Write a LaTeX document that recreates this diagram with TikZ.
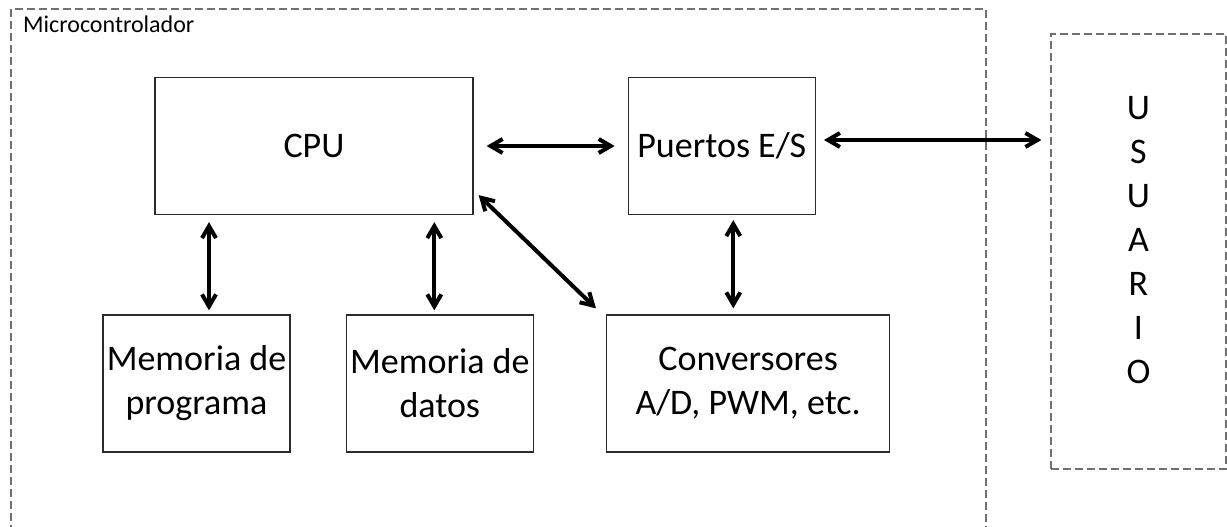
\documentclass[tikz,border=0pt]{standalone}
\usepackage{fontspec}
\setmainfont{Carlito}
\usetikzlibrary{arrows.meta,positioning}
\definecolor{edge}{HTML}{2B2B2B}
\definecolor{dash}{HTML}{707070}

\begin{document}
\begin{tikzpicture}[x=1pt,y=1pt,
  blk/.style={draw=edge,line width=1.3pt,inner sep=0pt,minimum height=137pt,align=center,
    font=\fontsize{36}{44}\selectfont},
  frame/.style={draw=dash,line width=1.3pt,dash pattern=on 8pt off 4pt},
  arr/.style={{Straight Barb[length=12pt,width=14pt]}-{Straight Barb[length=12pt,width=14pt]},line width=4pt}]
\useasboundingbox (0,0) rectangle (1227,527);
% microcontrolador (open at the bottom)
\draw[frame] (11,-6) -- (11,518) -- (986,518) -- (986,-6);
\node[anchor=base west,inner sep=0pt,font=\fontsize{24}{28}\selectfont] (mcu) at (23,494) {Microcontrolador};
% blocks
\node[blk,minimum width=318pt] (cpu) at (314,381) {CPU};
\node[blk,minimum width=187pt,right=154pt of cpu] (io) {Puertos E/S};
\node[blk,minimum width=187pt] (mprog) at (196.5,143.5) {Memoria de\\programa};
\node[blk,minimum width=187pt,right=55pt of mprog] (mdat) {Memoria de\\datos};
\node[blk,minimum width=283pt,right=72pt of mdat] (conv) {Conversores\\A/D, PWM, etc.};
% usuario
\node[frame,minimum width=175pt,minimum height=435pt] (usr) at (1138.5,275.5) {};
\node[align=center,inner sep=0pt,font=\fontsize{36}{44}\selectfont] (usrtxt) at ([yshift=11pt]usr.center) {U\\S\\U\\A\\R\\I\\O};
% buses
\draw[arr,shorten <=13pt,shorten >=13pt] (cpu) -- (io);
\draw[arr] ([shift={(8,6)}]io.east) -- ([shift={(-9,6)}]io.east -| usr.west);
\draw[arr] ([shift={(12.5,-7)}]mprog.north |- cpu.south) -- ([shift={(12.5,4)}]mprog.north);
\draw[arr] ([shift={(-5.5,-7)}]mdat.north |- cpu.south) -- ([shift={(-5.5,4)}]mdat.north);
\draw[arr] ([shift={(11.5,-5)}]io.south) -- ([shift={(11.5,6)}]io.south |- conv.north);
\draw[arr] ([shift={(5,20)}]cpu.south east) -- ([shift={(-10,6)}]conv.north west);
\end{tikzpicture}
\end{document}
